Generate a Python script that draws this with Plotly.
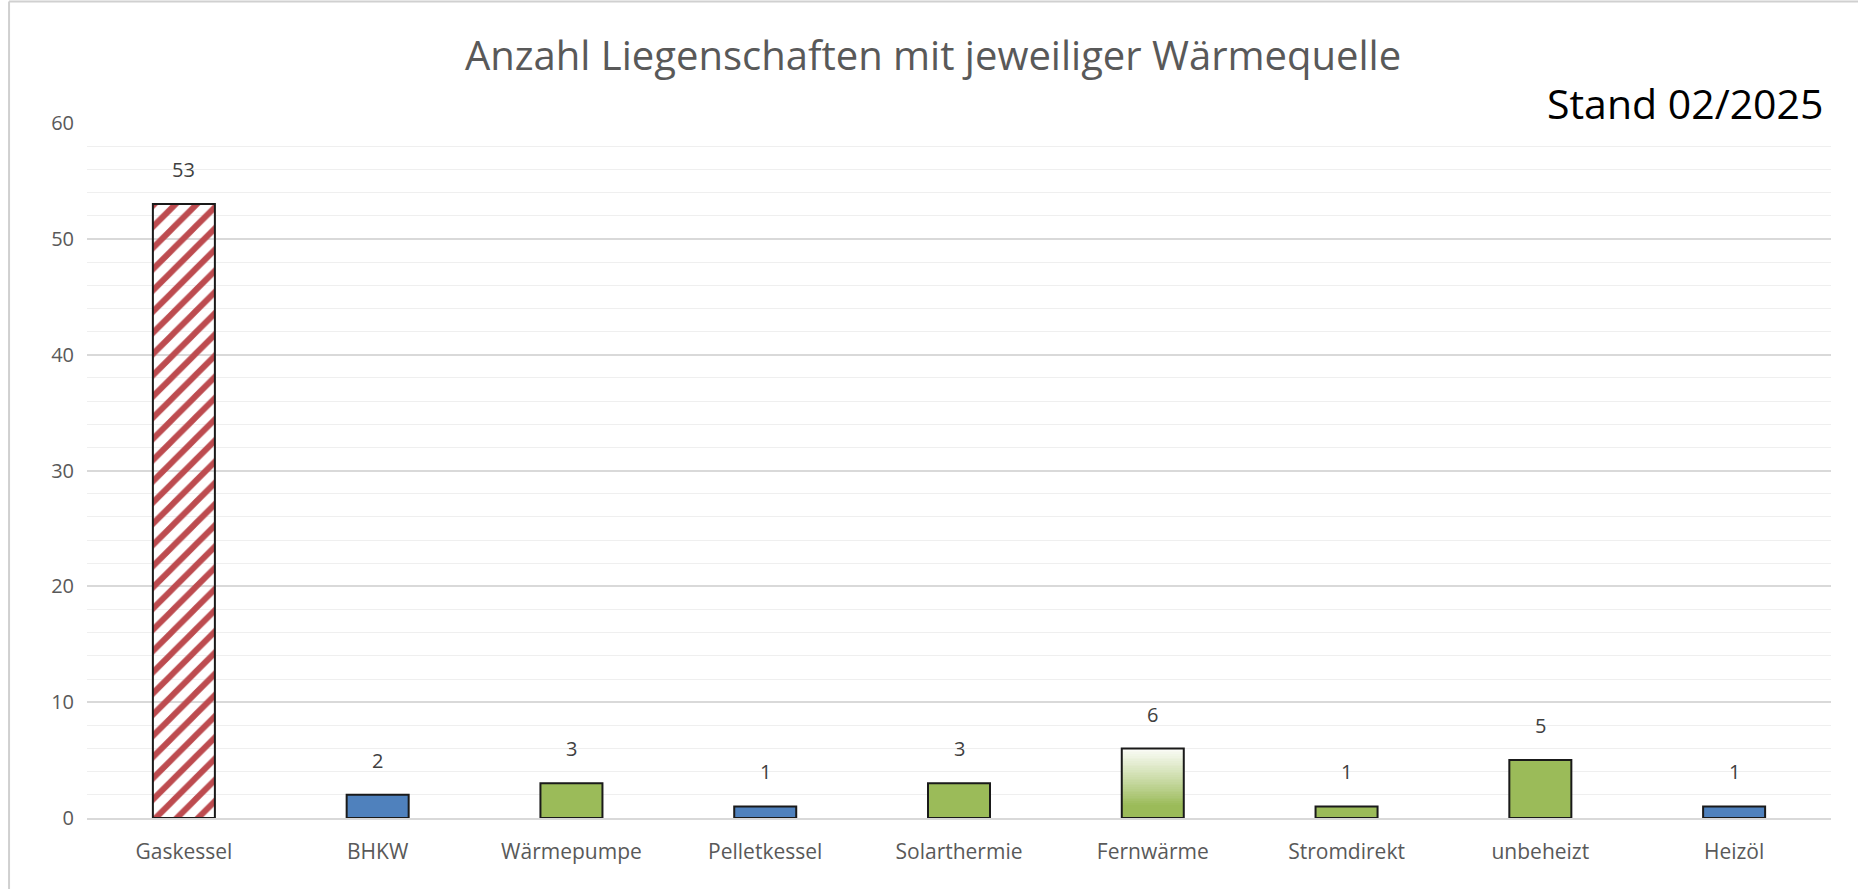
import plotly.graph_objects as go

categories = ["Gaskessel", "BHKW", "Wärmepumpe", "Pelletkessel", "Solarthermie",
              "Fernwärme", "Stromdirekt", "unbeheizt", "Heizöl"]
values = [53, 2, 3, 1, 3, 6, 1, 5, 1]
fill_kind = ["hatch", "blue", "green", "blue", "green", "gradient", "green", "green", "blue"]
y_ticks = [0, 10, 20, 30, 40, 50, 60]

title_text = "Anzahl Liegenschaften mit jeweiliger Wärmequelle"
stand_text = "Stand 02/2025"

RED = "#bd4b4f"
BLUE = "#4f81bd"
GREEN = "#9bbb59"
BAR_W = 0.32
FONT = "Open Sans"

def mix(c1, c2, t):
    a = [int(c1[i:i + 2], 16) for i in (1, 3, 5)]
    b = [int(c2[i:i + 2], 16) for i in (1, 3, 5)]
    return "rgb(%d,%d,%d)" % tuple(round(a[j] + (b[j] - a[j]) * t) for j in range(3))

fig = go.Figure()

colors, shapes, bgs = [], [], []
for kind in fill_kind:
    if kind == "hatch":
        colors.append(RED); shapes.append("/"); bgs.append("white")
    elif kind == "blue":
        colors.append(BLUE); shapes.append(""); bgs.append(BLUE)
    elif kind == "green":
        colors.append(GREEN); shapes.append(""); bgs.append(GREEN)
    else:
        colors.append("rgba(0,0,0,0)"); shapes.append(""); bgs.append("rgba(0,0,0,0)")

# invisible first trace fixes category order
fig.add_trace(go.Bar(x=categories, y=[0] * len(categories), width=BAR_W,
                     marker=dict(color="rgba(0,0,0,0)"), showlegend=False, hoverinfo="skip"))

# gradient fill for the gradient-styled bar(s)
N = 40
for cat, v, kind in zip(categories, values, fill_kind):
    if kind != "gradient":
        continue
    for k in range(N):
        t = (k + 0.5) / N
        f = max(0.0, min(1.0, (t - 0.2) / 0.8))
        col = mix(GREEN, "#fbfcf7", f ** 0.9)
        fig.add_trace(go.Bar(x=[cat], y=[v / N], base=[v * k / N], width=BAR_W,
                             marker=dict(color=col, line=dict(width=0)),
                             showlegend=False, hoverinfo="skip"))

fig.add_trace(go.Bar(
    x=categories, y=values, width=BAR_W,
    marker=dict(color=colors,
                line=dict(color="#1a1a1a", width=2),
                pattern=dict(shape=shapes, fgcolor=RED, bgcolor=bgs,
                             size=15, solidity=0.4, fillmode="replace")),
    showlegend=False,
))

for cat, v in zip(categories, values):
    fig.add_annotation(x=cat, y=v, text=str(v), showarrow=False,
                       yanchor="bottom", yshift=19,
                       font=dict(family=FONT, size=20, color="#404040"))

fig.add_annotation(xref="paper", yref="paper", x=0.485, y=1.0, yshift=69,
                   text=title_text, showarrow=False, xanchor="center", yanchor="middle",
                   font=dict(family=FONT, size=40, color="#595959"))
fig.add_annotation(xref="paper", yref="paper", x=0.9965, y=1.0, yshift=20,
                   text=stand_text, showarrow=False, xanchor="right", yanchor="middle",
                   font=dict(family=FONT, size=41, color="#000000"))

# outer frame (top and left edges)
fig.add_shape(type="line", xref="paper", yref="paper", x0=-0.0447, x1=1.05, y0=1.175, y1=1.175,
              line=dict(color="#d0d0d0", width=2))
fig.add_shape(type="line", xref="paper", yref="paper", x0=-0.0447, x1=-0.0447, y0=1.175, y1=-0.2,
              line=dict(color="#d0d0d0", width=2))

fig.update_layout(
    width=1858, height=889,
    margin=dict(l=87, r=27, t=123, b=71),
    paper_bgcolor="white", plot_bgcolor="white",
    barmode="overlay", bargap=0.68,
    font=dict(family=FONT, color="#595959"),
)
fig.update_xaxes(
    categoryorder="array", categoryarray=categories,
    showgrid=False, showline=True, linecolor="#d9d9d9", linewidth=1.5,
    ticks="", ticklabelstandoff=14,
    tickfont=dict(family=FONT, size=21, color="#595959"),
)
fig.update_yaxes(
    range=[0, 60], tickvals=y_ticks, showline=False, zeroline=False,
    gridcolor="#d9d9d9", gridwidth=1.5,
    minor=dict(dtick=2, showgrid=True, gridcolor="#efefef", gridwidth=1),
    ticks="", ticklabelstandoff=12,
    tickfont=dict(family=FONT, size=20, color="#595959"),
)

fig.write_html("out.html", config={"displayModeBar": False},
               post_script="document.body.style.margin='0';")
